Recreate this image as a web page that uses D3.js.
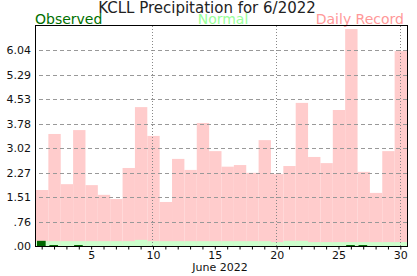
<!DOCTYPE html>
<html>
<head>
<meta charset="utf-8">
<script src="https://cdn.jsdelivr.net/npm/d3@7"></script>
<style>
  body { margin: 0; background: #fff; }
  svg text { font-family: "DejaVu Sans", Verdana, sans-serif; }
</style>
</head>
<body>
<div id="container"></div>
<script>
// June 2022 daily precipitation, KCLL (inches)
const days = d3.range(1, 31);
const recordVals = [1.73, 3.46, 1.91, 3.58, 1.88, 1.58, 1.45, 2.41, 4.29, 3.40,
                    1.36, 2.69, 2.35, 3.80, 2.93, 2.45, 2.50, 2.26, 3.27, 2.22,
                    2.47, 4.42, 2.75, 2.56, 4.20, 6.70, 2.29, 1.64, 2.93, 6.02];
const normalVals = [0.15, 0.15, 0.15, 0.15, 0.15, 0.15, 0.15, 0.15, 0.19, 0.15,
                    0.15, 0.15, 0.15, 0.15, 0.15, 0.15, 0.15, 0.15, 0.15, 0.12,
                    0.16, 0.16, 0.12, 0.12, 0.12, 0.12, 0.12, 0.12, 0.12, 0.12];
const observedVals = [0.16, 0.03, 0, 0.03, 0, 0, 0, 0, 0, 0,
                      0, 0, 0, 0, 0, 0, 0, 0, 0, 0,
                      0, 0, 0, 0, 0, 0.03, 0.03, 0, 0, 0];
const yTicks = [0, 0.755, 1.51, 2.265, 3.02, 3.775, 4.53, 5.285, 6.04];
const yTickLabels = ['.00', '.76', '1.51', '2.27', '3.02', '3.78', '4.53', '5.29', '6.04'];
const xLabelDays = [5, 10, 15, 20, 25, 30];
const gridDays = [10, 20, 30];

const W = 417, H = 276,
    M = { left: 36, right: 10, top: 26, bottom: 30 };

const svg = d3.select('#container').append('svg')
    .attr('width', W)
    .attr('height', H);

const x = d3.scaleBand()
    .domain(days)
    .range([M.left, W - M.right])
    .padding(0);

const y = d3.scaleLinear()
    .domain([0, 6.795])
    .range([H - M.bottom, M.top]);

const bw = x.bandwidth();

// title + legend
svg.append('text')
    .attr('x', 207).attr('y', 12.5)
    .attr('text-anchor', 'middle')
    .attr('font-size', 15)
    .attr('fill', '#222')
    .text('KCLL Precipitation for 6/2022');

svg.append('text').attr('x', 35).attr('y', 23.5)
    .attr('font-size', 14).attr('fill', '#007000').text('Observed');
svg.append('text').attr('x', 223).attr('y', 23.5).attr('text-anchor', 'middle')
    .attr('font-size', 14).attr('fill', '#99ff99').text('Normal');
svg.append('text').attr('x', 404).attr('y', 23.5).attr('text-anchor', 'end')
    .attr('font-size', 14).attr('fill', '#ff9999').text('Daily Record');

// bars
svg.append('g').selectAll('rect').data(days)
    .join('rect')
    .attr('x', d => x(d))
    .attr('width', bw)
    .attr('y', (d, i) => y(recordVals[i]))
    .attr('height', (d, i) => y(0) - y(recordVals[i]))
    .attr('fill', '#ffcccc');

svg.append('g').selectAll('rect').data(days)
    .join('rect')
    .attr('x', d => x(d))
    .attr('width', bw)
    .attr('y', (d, i) => y(normalVals[i]))
    .attr('height', (d, i) => y(0) - y(normalVals[i]))
    .attr('fill', '#ccffcc');

svg.append('g').selectAll('rect').data(days.filter((d, i) => observedVals[i] > 0))
    .join('rect')
    .attr('x', d => x(d) + 1)
    .attr('width', bw * 0.7)
    .attr('y', d => y(observedVals[d - 1]))
    .attr('height', d => y(0) - y(observedVals[d - 1]))
    .attr('fill', '#006600');

// grid
svg.append('g').selectAll('line').data(yTicks.slice(1))
    .join('line')
    .attr('x1', M.left + 3).attr('x2', W - M.right)
    .attr('y1', d => Math.round(y(d)) + 0.5)
    .attr('y2', d => Math.round(y(d)) + 0.5)
    .attr('stroke', '#999')
    .attr('stroke-dasharray', '4,3');

svg.append('g').selectAll('line').data(gridDays)
    .join('line')
    .attr('x1', d => Math.round(x(d) + bw / 2) - 0.5)
    .attr('x2', d => Math.round(x(d) + bw / 2) - 0.5)
    .attr('y1', M.top).attr('y2', H - M.bottom)
    .attr('stroke', '#888')
    .attr('stroke-dasharray', '1,2');

// frame
svg.append('rect')
    .attr('x', M.left - 0.5).attr('y', M.top - 0.5)
    .attr('width', W - M.right - M.left + 1)
    .attr('height', H - M.bottom - M.top + 1)
    .attr('fill', 'none')
    .attr('stroke', '#000');

// y labels
svg.append('g').selectAll('text').data(yTicks)
    .join('text')
    .attr('x', 31)
    .attr('y', d => y(d) + 4)
    .attr('text-anchor', 'end')
    .attr('font-size', 11)
    .attr('fill', '#111')
    .text((d, i) => yTickLabels[i]);

// x axis ticks
const xAxis = d3.axisBottom(x)
    .tickSize(3)
    .tickFormat(d => xLabelDays.includes(d) ? d : '');

const gx = svg.append('g')
    .attr('transform', `translate(0,${H - M.bottom + 0.5})`)
    .call(xAxis);
gx.select('.domain').remove();
gx.selectAll('.tick line').attr('stroke', '#000');
gx.selectAll('.tick text')
    .attr('font-size', 11)
    .attr('font-family', '"DejaVu Sans", Verdana, sans-serif')
    .attr('fill', '#111')
    .attr('dy', '0.71em')
    .attr('y', 4.5);

svg.append('text')
    .attr('x', 220).attr('y', 271)
    .attr('text-anchor', 'middle')
    .attr('font-size', 11)
    .attr('fill', '#111')
    .text('June 2022');
</script>
</body>
</html>
